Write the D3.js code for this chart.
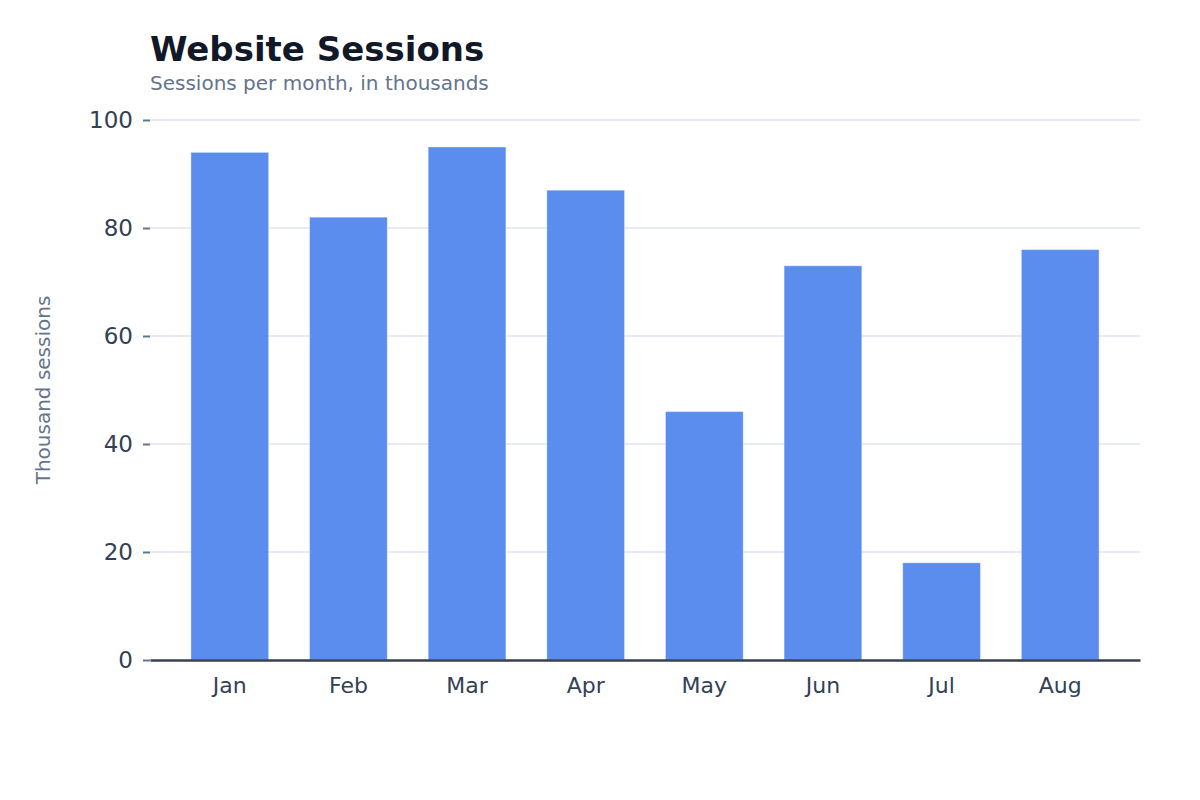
<!DOCTYPE html>
<html>
<head>
<meta charset="utf-8">
<script src="https://cdn.jsdelivr.net/npm/d3@7"></script>
<style>
  html, body { margin: 0; padding: 0; background: #fff; }
  #chart { width: 1200px; height: 800px; }
  text { font-family: "DejaVu Sans", sans-serif; }
</style>
</head>
<body>
<div id="chart"></div>
<script>
const months = ["Jan", "Feb", "Mar", "Apr", "May", "Jun", "Jul", "Aug"];
const sessions = [94, 82, 95, 87, 46, 73, 18, 76];
const yTicks = [0, 20, 40, 60, 80, 100];

const width = 1200;
const height = 800;
const margin = { top: 120, right: 60, bottom: 140, left: 150 };
const innerWidth = width - margin.left - margin.right;
const innerHeight = height - margin.top - margin.bottom;

const svg = d3
  .select("#chart")
  .append("svg")
  .attr("width", width)
  .attr("height", height);

svg
  .append("text")
  .attr("x", margin.left)
  .attr("y", 61)
  .style("font-size", "34px")
  .style("font-weight", "bold")
  .attr("fill", "#111827")
  .text("Website Sessions");

svg
  .append("text")
  .attr("x", margin.left)
  .attr("y", 90)
  .style("font-size", "20px")
  .attr("fill", "#64748b")
  .text("Sessions per month, in thousands");

const g = svg
  .append("g")
  .attr("transform", `translate(${margin.left},${margin.top})`);

const x = d3
  .scaleBand()
  .domain(months)
  .range([0, innerWidth])
  .padding(0.345);

const y = d3.scaleLinear().domain([0, 100]).range([innerHeight, 0]);

// gridlines
g.append("g")
  .selectAll("line")
  .data(yTicks.filter((d) => d > 0))
  .join("line")
  .attr("x1", 0)
  .attr("x2", innerWidth)
  .attr("y1", (d) => y(d))
  .attr("y2", (d) => y(d))
  .attr("stroke", "#e8ecf2")
  .attr("stroke-width", 2);

// bars
g.append("g")
  .selectAll("rect")
  .data(sessions)
  .join("rect")
  .attr("x", (d, i) => x(months[i]))
  .attr("y", (d) => y(d))
  .attr("width", x.bandwidth())
  .attr("height", (d) => innerHeight - y(d))
  .attr("fill", "#5b8def")
  .attr("stroke", "#ffffff")
  .attr("stroke-opacity", 0.35)
  .attr("stroke-width", 1);

// y axis
const yAxis = g
  .append("g")
  .call(d3.axisLeft(y).tickValues(yTicks).tickSize(7).tickPadding(10));
yAxis.select(".domain").remove();
yAxis.selectAll(".tick line").attr("stroke", "#64748b").attr("stroke-width", 2);
yAxis
  .selectAll(".tick text")
  .attr("fill", "#334155")
  .style("font-size", "23px");

// x axis
const xAxis = g
  .append("g")
  .attr("transform", `translate(0,${innerHeight})`)
  .call(d3.axisBottom(x).tickSize(0).tickPadding(17));
xAxis.select(".domain").attr("stroke", "#374151").attr("stroke-width", 2.5);
xAxis
  .selectAll(".tick text")
  .attr("fill", "#334155")
  .style("font-size", "22px");

// y label
svg
  .append("text")
  .attr("transform", `translate(50,${margin.top + innerHeight / 2}) rotate(-90)`)
  .attr("text-anchor", "middle")
  .style("font-size", "20px")
  .attr("fill", "#64748b")
  .text("Thousand sessions");
</script>
</body>
</html>
